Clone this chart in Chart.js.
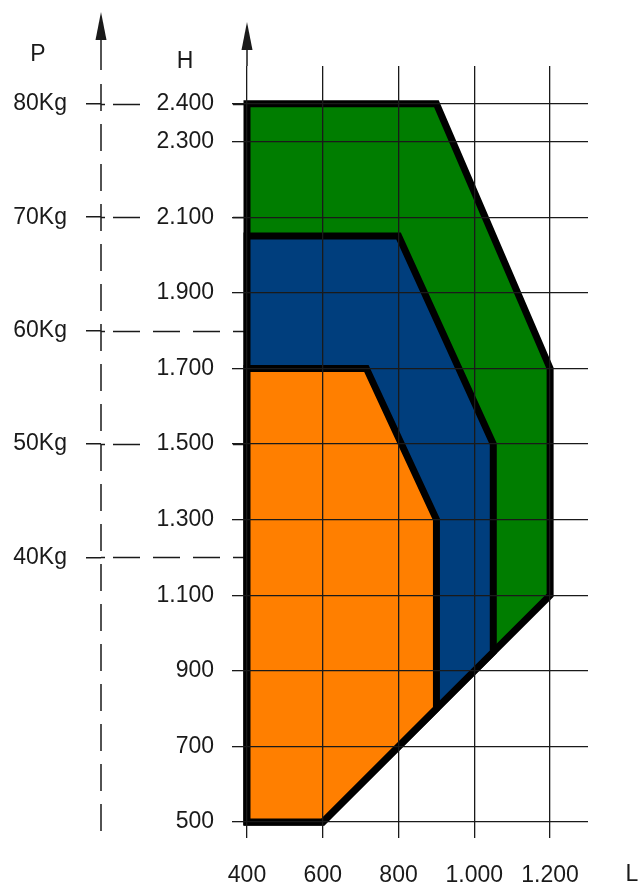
<!DOCTYPE html>
<html>
<head>
<meta charset="utf-8">
<script src="https://cdn.jsdelivr.net/npm/chart.js@4.4.1/dist/chart.umd.min.js"></script>
<style>
  html, body { margin: 0; padding: 0; background: #fff; }
  #wrap { width: 641px; height: 886px; }
</style>
</head>
<body>
<div id="wrap"><canvas id="chart"></canvas></div>
<script>
// L (mm) along x, H (mm) up y, P (Kg) on the far left
const lTicks = [400, 600, 800, 1000, 1200];
const hTicks = [500, 700, 900, 1100, 1300, 1500, 1700, 1900, 2100, 2300, 2400];
const pTicks = [40, 50, 60, 70, 80];
const kgToH = 30; // 80Kg sits on 2.400, 70Kg on 2.100

// outlines, starting bottom left
const greenL  = [400, 400, 900, 1200, 1200, 600, 400];
const greenH  = [500, 2400, 2400, 1700, 1100, 500, 500];
const blueL   = [400, 400, 800, 1050, 1050, 600, 400];
const blueH   = [500, 2050, 2050, 1500, 950, 500, 500];
const orangeL = [400, 400, 715, 900, 900, 600, 400];
const orangeH = [500, 1700, 1700, 1300, 800, 500, 500];

const FONT = { family: "'Liberation Sans', Arial, sans-serif", size: 23 };
const INK = "#1a1a1a";

function fmt(v) {
    if (v < 1000) return String(v);
    return Math.floor(v / 1000) + "." + String(v % 1000).padStart(3, "0");
}

function pts(xs, ys) {
    return xs.map((x, i) => ({ x: x, y: ys[i] }));
}

function shape(xs, ys, color) {
    return {
        data: pts(xs, ys),
        showLine: true,
        fill: "shape",
        clip: false,
        backgroundColor: color,
        borderColor: "#000",
        borderWidth: 7,
        borderJoinStyle: "miter",
        borderCapStyle: "square",
        pointRadius: 0,
        tension: 0
    };
}

function arrow(ctx, x, tip, base) {
    ctx.beginPath();
    ctx.moveTo(x, tip);
    ctx.lineTo(x + 5.5, base);
    ctx.lineTo(x - 5.5, base);
    ctx.closePath();
    ctx.fill();
}

const extras = {
    id: "extras",
    beforeDraw(chart) {
        const ctx = chart.ctx;
        const xs = chart.scales.x, p = chart.scales.p;
        const top = chart.chartArea.top, bottom = chart.chartArea.bottom;
        const px = p.right;
        ctx.save();
        ctx.strokeStyle = INK;
        ctx.fillStyle = INK;
        ctx.lineWidth = 1.5;

        // P levels carried over to the H axis (H labels sit on top with a white backdrop)
        pTicks.forEach(v => {
            const py = Math.round(p.getPixelForValue(v)) + 0.5;
            ctx.setLineDash([]);
            ctx.beginPath(); ctx.moveTo(px, py); ctx.lineTo(px + 4, py); ctx.stroke();
            ctx.setLineDash([27, 13]);
            ctx.beginPath(); ctx.moveTo(px + 12, py); ctx.lineTo(xs.left - 2, py); ctx.stroke();
        });

        // P axis line
        ctx.setLineDash([]);
        ctx.beginPath(); ctx.moveTo(px, top - 28); ctx.lineTo(px, top + 4); ctx.stroke();
        ctx.setLineDash([27, 13]);
        ctx.beginPath(); ctx.moveTo(px, top + 18); ctx.lineTo(px, bottom + 16); ctx.stroke();
        ctx.setLineDash([]);
        arrow(ctx, px, top - 54, top - 26);

        // H axis arrow
        const hx = xs.getPixelForValue(lTicks[0]);
        ctx.beginPath(); ctx.moveTo(hx, top - 18); ctx.lineTo(hx, top); ctx.stroke();
        arrow(ctx, hx, top - 44, top - 16);

        // axis letters
        ctx.font = FONT.size + "px " + FONT.family;
        ctx.textAlign = "center";
        ctx.textBaseline = "middle";
        ctx.fillText("P", px - 63, top - 11);
        ctx.fillText("H", hx - 62, top - 4);
        ctx.fillText("L", xs.right + 44, bottom + 53);
        ctx.restore();
    }
};

new Chart(document.getElementById("chart"), {
    type: "scatter",
    data: {
        datasets: [
            shape(orangeL, orangeH, "#ff7f00"),
            shape(blueL, blueH, "#003e7d"),
            shape(greenL, greenH, "#007d00")
        ]
    },
    options: {
        responsive: true,
        maintainAspectRatio: false,
        animation: false,
        layout: { padding: { left: 0, top: 66, right: 53, bottom: 0 } },
        plugins: { legend: { display: false }, tooltip: { enabled: false } },
        scales: {
            x: {
                type: "linear",
                min: 400,
                max: 1300,
                afterBuildTicks: s => { s.ticks = lTicks.map(v => ({ value: v })); },
                afterFit: s => { s.height = 64; },
                border: { display: false },
                grid: { color: INK, lineWidth: 1.3, tickLength: 16, z: 1 },
                ticks: { font: FONT, color: INK, padding: 24, maxRotation: 0, callback: v => fmt(v) }
            },
            y: {
                type: "linear",
                position: "left",
                weight: 0,
                min: 500,
                max: 2500,
                afterBuildTicks: s => { s.ticks = hTicks.map(v => ({ value: v })); },
                afterFit: s => { s.width = 146; },
                border: { display: false },
                grid: { color: INK, lineWidth: 1.3, tickLength: 15, z: 1 },
                ticks: {
                    font: FONT, color: INK, padding: 18, callback: v => fmt(v),
                    showLabelBackdrop: true, backdropColor: "#fff",
                    backdropPadding: { left: 8, right: 9, top: 3, bottom: 3 }
                }
            },
            p: {
                type: "linear",
                position: "left",
                weight: 1,
                min: 500 / kgToH,
                max: 2500 / kgToH,
                afterBuildTicks: s => { s.ticks = pTicks.map(v => ({ value: v })); },
                afterFit: s => { s.width = 101; },
                border: { display: false },
                grid: { drawOnChartArea: false, color: INK, lineWidth: 1.5, tickLength: 15 },
                ticks: { font: FONT, color: INK, padding: 19, callback: v => v + "Kg" }
            }
        }
    },
    plugins: [extras]
});
</script>
</body>
</html>
